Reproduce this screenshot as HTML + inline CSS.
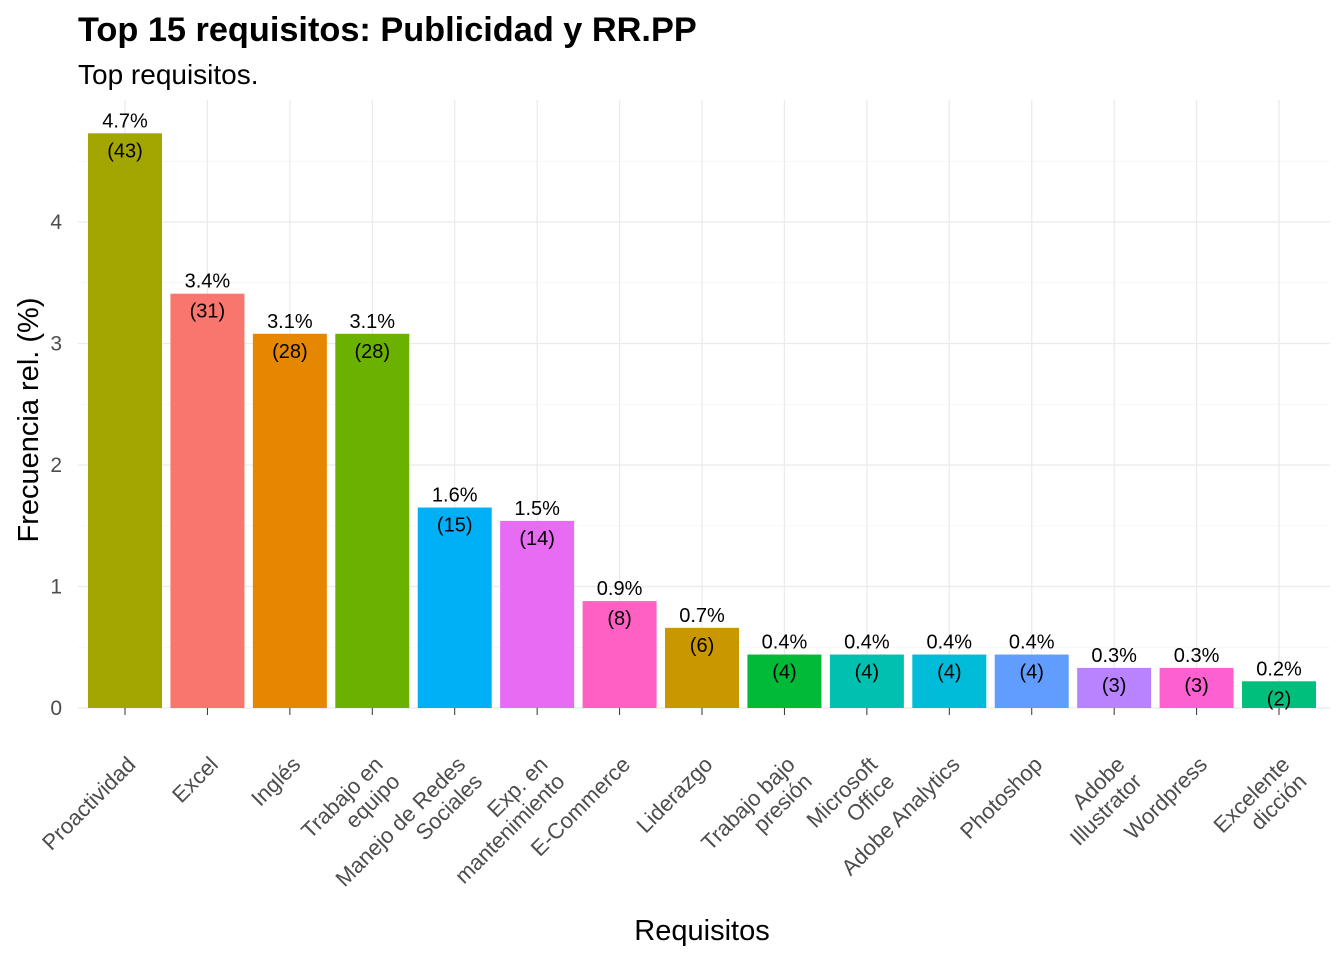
<!DOCTYPE html>
<html><head><meta charset="utf-8"><style>
body{margin:0;background:#fff;}
svg{display:block;font-family:"Liberation Sans",Arial,sans-serif;}
</style></head><body>
<svg id="chart" width="1344" height="960" viewBox="0 0 1344 960">
<text x="78" y="41" font-size="34.3" font-weight="bold" fill="#000">Top 15 requisitos: Publicidad y RR.PP</text>
<text x="78" y="84" font-size="28" fill="#000">Top requisitos.</text>
<text transform="translate(38,420) rotate(-90)" text-anchor="middle" font-size="29" fill="#000">Frecuencia rel. (%)</text>
<text x="702" y="940" text-anchor="middle" font-size="29" fill="#000">Requisitos</text>
<g id="grid"></g><g id="bars"></g><g id="labels"></g><g id="axes"></g>
</svg>
<script>
const categories=[["Proactividad"],["Excel"],["Inglés"],["Trabajo en","equipo"],["Manejo de Redes","Sociales"],["Exp. en","mantenimiento"],["E-Commerce"],["Liderazgo"],["Trabajo bajo","presión"],["Microsoft","Office"],["Adobe Analytics"],["Photoshop"],["Adobe","Illustrator"],["Wordpress"],["Excelente","dicción"]];
const counts=[43,31,28,28,15,14,8,6,4,4,4,4,3,3,2];
const percents=[4.73,3.41,3.08,3.08,1.65,1.54,0.88,0.66,0.44,0.44,0.44,0.44,0.33,0.33,0.22];
const colors=["#A3A500","#F8766D","#E58700","#6BB100","#00B0F6","#E76BF3","#FF61C3","#C99800","#00BA38","#00C0AF","#00BCD8","#619CFF","#B983FF","#FD61D1","#00BF7D"];
const yTicks=[0,1,2,3,4];
const NS="http://www.w3.org/2000/svg";
const x0=125,step=82.43,bw=74,yBase=708,pxPer=121.5,plotL=78,plotR=1330,plotT=100;
const xs=i=>x0+i*step, ys=v=>yBase-v*pxPer;
function mk(tag,attrs,parent){const e=document.createElementNS(NS,tag);for(const k in attrs)e.setAttribute(k,attrs[k]);document.getElementById(parent).appendChild(e);return e;}
for(let v=0;v<=4.5;v+=0.5){const l=mk('line',{x1:plotL,x2:plotR,y1:ys(v),y2:ys(v),stroke:v%1===0?'#ebebeb':'#f4f4f4','stroke-width':v%1===0?1.3:0.8},'grid');

}
categories.forEach((c,i)=>{const l=mk('line',{x1:xs(i),x2:xs(i),y1:plotT,y2:yBase,stroke:'#ebebeb','stroke-width':1.3},'grid');

});
yTicks.forEach(t=>{const e=mk('text',{x:62,y:ys(t)+7,'text-anchor':'end','font-size':21,fill:'#4d4d4d'},'axes');e.textContent=t;

});
categories.forEach((c,i)=>{const x=xs(i),v=percents[i],top=ys(v);
const r=mk('rect',{x:x-bw/2,y:top,width:bw,height:yBase-top,fill:colors[i]},'bars');


const p=mk('text',{x:x,y:top-6,'text-anchor':'middle','font-size':20,fill:'#000'},'labels');p.textContent=v.toFixed(1)+'%';


const n=mk('text',{x:x,y:top+24,'text-anchor':'middle','font-size':20,fill:'#000'},'labels');n.textContent='('+counts[i]+')';


const tk=mk('line',{x1:x,x2:x,y1:yBase,y2:yBase+7,stroke:'#333','stroke-width':1},'axes');


const t=mk('text',{transform:`translate(${x+2},${yBase+48}) rotate(-45)`,'text-anchor':'end','font-size':22,fill:'#4d4d4d'},'axes');


c.forEach((line,j)=>{const s=document.createElementNS(NS,'tspan');s.setAttribute('x',0);s.setAttribute('y',14+j*24);s.textContent=line;t.appendChild(s);});
});
</script>
</body></html>
